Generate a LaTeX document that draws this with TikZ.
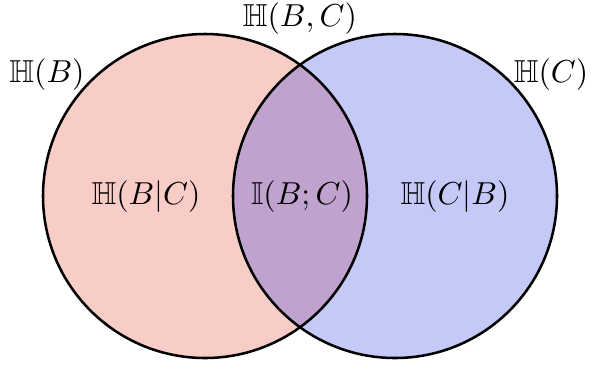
\documentclass[tikz,border=0pt]{standalone}
\usepackage{xcolor}
\usepackage{tikz}
\usepackage{amsmath}
\usepackage{amssymb}
\usetikzlibrary{positioning}
\definecolor{setb}{RGB}{231,55,31}
\definecolor{setc}{RGB}{19,39,227}

\begin{document}
\begin{tikzpicture}[
    x=0.315pt, y=-0.315pt,
    region/.style={fill opacity=0.25},
    outline/.style={draw=black, thick},
    label/.style={inner sep=1pt}
]
    \useasboundingbox (0,0) rectangle (591,368);
    % the two sets
    \fill[region, fill=setb] (205,196) circle (162);
    \fill[region, fill=setc] (395,196) circle (162);
    \draw[outline] (205,196) circle (162);
    \draw[outline] (395,196) circle (162);
    % labels
    \node[label] (hb) at (47,75) {$\mathbb{H}(B)$};
    \node[label] (hc) at (551,75) {$\mathbb{H}(C)$};
    \node[label] (hbc) at (300,19) {$\mathbb{H}(B,C)$};
    \node[label] (hbgc) at (146,197) {$\mathbb{H}(B|C)$};
    \node[label] (ibc) at (302,197) {$\mathbb{I}(B;C)$};
    \node[label] (hcgb) at (455,197) {$\mathbb{H}(C|B)$};
\end{tikzpicture}
\end{document}
